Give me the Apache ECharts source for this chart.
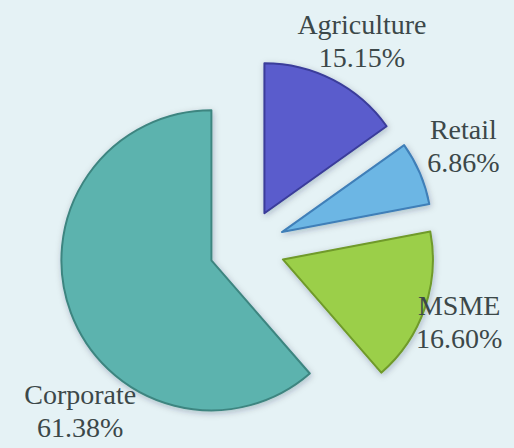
<!DOCTYPE html>
<html>
<head>
<meta charset="utf-8">
<script src="https://cdn.jsdelivr.net/npm/echarts@6/dist/echarts.min.js"></script>
<style>
html,body{margin:0;padding:0;background:#e5f2f5;}
#c{width:514px;height:448px;}
</style>
</head>
<body>
<div id="c"></div>
<script>
const categories = ['Agriculture', 'Retail', 'MSME', 'Corporate'];
const values = [15.15, 6.86, 16.60, 61.38];
const colors = ['#5a5ccc', '#6cb6e4', '#9bcf48', '#5cb3ae'];
const borders = ['#3a3c9a', '#3f7fb8', '#6f9a2a', '#3e8580'];

// label anchor: [angle deg clockwise from 12 o'clock, distance from slice vertex]
const labelAnchor = {
  Agriculture: [29.5, 198],
  Retail: [64.5, 201],
  MSME: [109.5, 187],
  Corporate: [221, 200]
};

const C = [247, 247], R = 150, OFF = 38;
const total = values.reduce((a, b) => a + b, 0);

const chart = echarts.init(document.getElementById('c'), null, {renderer: 'svg'});

let acc = 0;
const mids = values.map(v => { const s = acc; acc += v; return (s + v / 2) / total * 360; });

const labels = categories.map((n, i) => {
  const m = mids[i] * Math.PI / 180;
  const vx = C[0] + OFF * Math.sin(m), vy = C[1] - OFF * Math.cos(m);
  const a = labelAnchor[n];
  const t = a[0] * Math.PI / 180;
  return {
    type: 'text',
    silent: true,
    x: vx + a[1] * Math.sin(t),
    y: vy - a[1] * Math.cos(t),
    z: 100,
    style: {
      text: n + '\n' + values[i].toFixed(2) + '%',
      fontFamily: 'Liberation Serif',
      fontSize: 28,
      lineHeight: 33,
      fill: '#3c4849',
      align: 'center',
      verticalAlign: 'middle',
      textAlign: 'center',
      textVerticalAlign: 'middle'
    }
  };
});

chart.setOption({
  backgroundColor: '#e5f2f5',
  animation: false,
  graphic: labels,
  series: [{
    type: 'pie',
    center: C,
    radius: R,
    startAngle: 90,
    clockwise: true,
    selectedMode: 'multiple',
    selectedOffset: OFF,
    avoidLabelOverlap: false,
    label: {show: false},
    labelLine: {show: false},
    data: categories.map((n, i) => ({
      name: n,
      value: values[i],
      selected: true,
      itemStyle: {
        color: colors[i],
        borderColor: borders[i],
        borderWidth: 2,
        shadowBlur: 6,
        shadowColor: 'rgba(0,40,60,0.25)',
        shadowOffsetX: 1,
        shadowOffsetY: 2
      }
    })),
    emphasis: {disabled: true},
    select: {itemStyle: {}}
  }]
});
</script>
</body>
</html>
